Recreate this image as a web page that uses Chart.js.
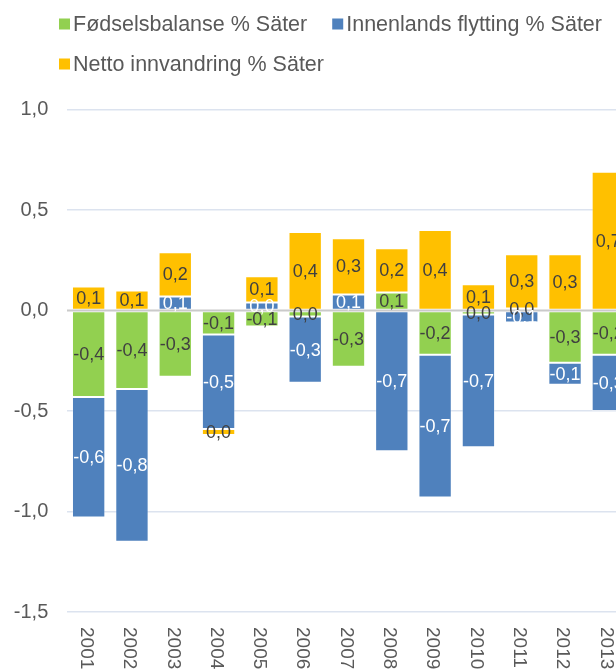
<!DOCTYPE html>
<html>
<head>
<meta charset="utf-8">
<script src="https://cdn.jsdelivr.net/npm/chart.js@4.4.0/dist/chart.umd.min.js"></script>
<style>
  html, body { margin: 0; padding: 0; background: #ffffff; overflow: hidden; }
  #wrap { width: 616px; height: 672px; overflow: hidden; position: relative; }
  canvas { display: block; }
</style>
</head>
<body>
<div id="wrap"><canvas id="c" width="640" height="672"></canvas></div>
<script>
// ---- data ----
const years = ['2001','2002','2003','2004','2005','2006','2007','2008','2009','2010','2011','2012','2013'];
const fodselsbalanse   = [-0.43, -0.39, -0.33, -0.12, -0.08, -0.03, -0.28,  0.09, -0.22, -0.02,  0.01, -0.26, -0.22];
const innenlandsFlytting = [-0.60, -0.76,  0.07, -0.47,  0.04, -0.33,  0.08, -0.70, -0.71, -0.66, -0.06, -0.11, -0.28];
const nettoInnvandring = [ 0.12,  0.10,  0.22, -0.03,  0.13,  0.39,  0.28,  0.22,  0.40,  0.13,  0.27,  0.28,  0.69];
const seriesNames = ['Fødselsbalanse % Säter', 'Innenlands flytting % Säter', 'Netto innvandring % Säter'];
const yTickValues = [-1.5, -1.0, -0.5, 0.0, 0.5, 1.0];

const FONT = '"Liberation Sans", Arial, Helvetica, sans-serif';
Chart.defaults.font.family = FONT;

function fmt(v) {
  let s = v.toFixed(1);
  if (s === '-0.0') s = '0.0';
  return s.replace('.', ',');
}

const colors = ['#92D050', '#4F81BD', '#FFC000'];
const labelColors = ['#404040', '#ffffff', '#404040'];

// custom legend (two rows, left aligned like the reference)
const legendPlugin = {
  id: 'customLegend',
  afterDraw(chart) {
    const ctx = chart.ctx;
    ctx.save();
    ctx.font = '21.5px ' + FONT;
    ctx.textBaseline = 'middle';
    ctx.textAlign = 'left';
    const rows = [[0, 1], [2]];
    const rowY = [24, 64];
    rows.forEach((row, ri) => {
      let x = 59;
      row.forEach(i => {
        const ds = chart.data.datasets[i];
        ctx.fillStyle = ds.backgroundColor;
        ctx.fillRect(x, rowY[ri] - 5.5, 11, 11);
        ctx.fillStyle = '#595959';
        ctx.fillText(ds.label, x + 14, rowY[ri] + 1);
        x += 14 + ctx.measureText(ds.label).width + 25;
      });
    });
    ctx.restore();
  }
};

// zero axis line drawn over the bars, then value labels
const overlayPlugin = {
  id: 'overlay',
  afterDatasetsDraw(chart) {
    const ctx = chart.ctx;
    const area = chart.chartArea;
    const y0 = chart.scales.y.getPixelForValue(0);
    ctx.save();
    ctx.strokeStyle = '#cacaca';
    ctx.lineWidth = 2;
    ctx.beginPath();
    ctx.moveTo(area.left, y0);
    ctx.lineTo(area.right, y0);
    ctx.stroke();

    ctx.font = '18px ' + FONT;
    ctx.textAlign = 'center';
    ctx.textBaseline = 'middle';
    chart.data.datasets.forEach((ds, di) => {
      const meta = chart.getDatasetMeta(di);
      ctx.fillStyle = labelColors[di];
      meta.data.forEach((el, i) => {
        const p = el.getProps(['x', 'y', 'base'], true);
        ctx.fillText(fmt(ds.data[i]), p.x, (p.y + p.base) / 2 + 1);
      });
    });
    ctx.restore();
  },
  afterDraw(chart) {
    // category labels rotated clockwise (read top to bottom)
    const ctx = chart.ctx;
    const xs = chart.scales.x;
    ctx.save();
    ctx.font = '19px ' + FONT;
    ctx.fillStyle = '#595959';
    ctx.textAlign = 'left';
    ctx.textBaseline = 'middle';
    chart.data.labels.forEach((lab, i) => {
      const px = xs.getPixelForValue(i);
      ctx.save();
      ctx.translate(px - 2.5, 627);
      ctx.rotate(Math.PI / 2);
      ctx.fillText(lab, 0, 0);
      ctx.restore();
    });
    ctx.restore();
  }
};

new Chart(document.getElementById('c'), {
  type: 'bar',
  data: {
    labels: years,
    datasets: [
      { label: seriesNames[0], data: fodselsbalanse, backgroundColor: colors[0] },
      { label: seriesNames[1], data: innenlandsFlytting, backgroundColor: colors[1] },
      { label: seriesNames[2], data: nettoInnvandring, backgroundColor: colors[2] }
    ]
  },
  options: {
    responsive: false,
    animation: false,
    layout: { padding: { top: 109.5, bottom: 60, left: 0, right: 10 } },
    datasets: {
      bar: {
        barPercentage: 0.77,
        categoryPercentage: 1.0,
        borderWidth: 1,
        borderColor: 'rgba(255,255,255,0.25)',
        borderSkipped: false
      }
    },
    plugins: {
      legend: { display: false },
      tooltip: { enabled: false }
    },
    scales: {
      x: {
        stacked: true,
        grid: { display: false },
        border: { display: false },
        ticks: { display: false },
        afterFit(s) { s.height = 0; }
      },
      y: {
        stacked: true,
        min: -1.5,
        max: 1.0,
        afterFit(s) { s.width = 67; },
        afterBuildTicks(s) { s.ticks = yTickValues.map(v => ({ value: v })); },
        ticks: {
          padding: 18.7,
          color: '#595959',
          font: { size: 20 },
          callback: v => fmt(v)
        },
        grid: {
          drawTicks: false,
          lineWidth: 1.5,
          color: c => (c.tick && c.tick.value === 0) ? 'rgba(0,0,0,0)' : '#dce3ef'
        },
        border: { display: false }
      }
    }
  },
  plugins: [legendPlugin, overlayPlugin]
});
</script>
</body>
</html>
